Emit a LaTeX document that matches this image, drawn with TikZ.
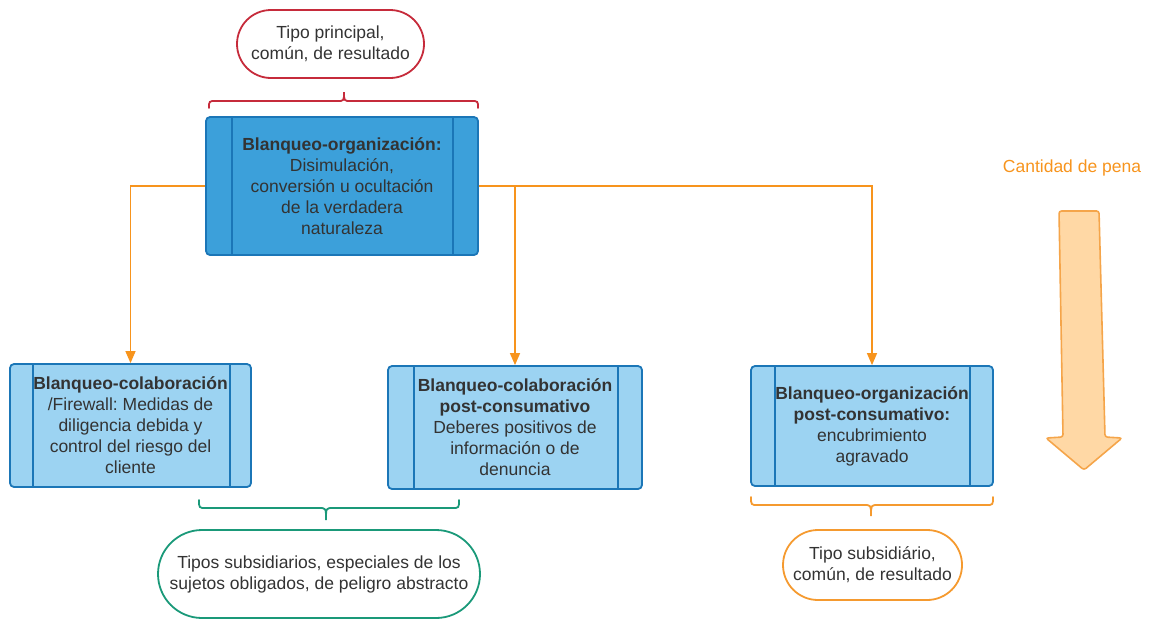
\documentclass[tikz,border=0pt]{standalone}
\usepackage{fontspec}
\setmainfont{Liberation Sans}
\usetikzlibrary{arrows.meta}
\definecolor{txt}{HTML}{333333}
\definecolor{mainfill}{HTML}{3CA0DA}
\definecolor{subfill}{HTML}{9CD3F2}
\definecolor{boxline}{HTML}{1B76B7}
\definecolor{connc}{HTML}{F7941D}
\definecolor{redc}{HTML}{C62B3B}
\definecolor{greenc}{HTML}{1A9979}
\definecolor{orangec}{HTML}{F59A2F}
\definecolor{arrowfill}{HTML}{FFD8A5}
\definecolor{arrowline}{HTML}{F5A54A}
\frenchspacing
\begin{document}
\begin{tikzpicture}[x=1pt,y=-1pt,
  font=\fontsize{17.5}{21}\selectfont,
  panel/.style={draw=boxline, line width=1.8pt, rounded corners=4pt, align=center, text=txt, inner sep=0pt},
  mainpanel/.style={panel, fill=mainfill},
  subpanel/.style={panel, fill=subfill},
  innerline/.style={draw=boxline, line width=1.8pt},
  stadium/.style={draw, line width=1.8pt, align=center, text=txt, inner sep=0pt},
  connector/.style={draw=connc, line width=1.4pt, -{Triangle[width=10pt,length=12pt]}},
  bracepath/.style={line width=1.8pt, line cap=round}
]
\useasboundingbox (0,0) rectangle (1158,619);

% top stadium
\node[stadium, draw=redc, minimum width=187pt, minimum height=68pt, rounded corners=34pt] (tp) at (330.5,44) {Tipo principal,\\común, de resultado};

% main box
\node[mainpanel, minimum width=272pt, minimum height=138pt] (main) at (342,186)
  {\textbf{Blanqueo-organización:}\\Disimulación,\\conversión u ocultación\\de la verdadera\\naturaleza};
\draw[innerline] ([xshift=27pt]main.north west) -- ([xshift=27pt]main.south west);
\draw[innerline] ([xshift=-26pt]main.north east) -- ([xshift=-26pt]main.south east);

% sub boxes
\node[subpanel, minimum width=241pt, minimum height=123pt] (left) at (130.5,425.5)
  {\textbf{Blanqueo-colaboración}\\/Firewall: Medidas de\\diligencia debida y\\control del riesgo del\\cliente};
\draw[innerline] ([xshift=24pt]left.north west) -- ([xshift=24pt]left.south west);
\draw[innerline] ([xshift=-22pt]left.north east) -- ([xshift=-22pt]left.south east);

\node[subpanel, minimum width=254pt, minimum height=123pt] (mid) at (515,427.5)
  {\textbf{Blanqueo-colaboración}\\\textbf{post-consumativo}\\Deberes positivos de\\información o de\\denuncia};
\draw[innerline] ([xshift=27pt]mid.north west) -- ([xshift=27pt]mid.south west);
\draw[innerline] ([xshift=-25pt]mid.north east) -- ([xshift=-25pt]mid.south east);

\node[subpanel, minimum width=242pt, minimum height=120pt] (right) at (872,426)
  {\textbf{Blanqueo-organización}\\\textbf{post-consumativo:}\\encubrimiento\\agravado};
\draw[innerline] ([xshift=25pt]right.north west) -- ([xshift=25pt]right.south west);
\draw[innerline] ([xshift=-24pt]right.north east) -- ([xshift=-24pt]right.south east);

% connectors
\draw[connector] (main.west) -| (left.north);
\draw[connector] (main.east) -| (mid.north);
\draw[connector] (main.east) -| (right.north);

% braces
\draw[bracepath, redc] (209,108) .. controls (209,101) .. (216,101) -- (337,101)
  .. controls (344,101) .. (344,92) .. controls (344,101) .. (351,101) -- (471,101)
  .. controls (478,101) .. (478,108);
\draw[bracepath, greenc] (199,500) .. controls (199,508) .. (206,508) -- (319,508)
  .. controls (326,508) .. (326,520) .. controls (326,508) .. (333,508) -- (452,508)
  .. controls (459,508) .. (459,500);
\draw[bracepath, orangec] (751,497) .. controls (751,505) .. (758,505) -- (864,505)
  .. controls (871,505) .. (871,516) .. controls (871,505) .. (878,505) -- (986,505)
  .. controls (993,505) .. (993,497);

% bottom stadiums
\node[stadium, draw=greenc, minimum width=322pt, minimum height=88pt, rounded corners=44pt] (gs) at (319,574)
  {Tipos subsidiarios, especiales de los\\sujetos obligados, de peligro abstracto};
\node[stadium, draw=orangec, minimum width=179pt, minimum height=70pt, rounded corners=35pt] (os) at (872.5,565)
  {Tipo subsidiário,\\común, de resultado};

% penalty arrow
\node[text=connc] (pena) at (1072,168) {Cantidad de pena};
\draw[draw=arrowline, fill=arrowfill, line width=1.6pt, rounded corners=2.5pt]
  (1059,211) -- (1099,211) -- (1105,437) -- (1122,438) -- (1084,470) -- (1046,438) -- (1063,437) -- cycle;
\end{tikzpicture}
\end{document}
